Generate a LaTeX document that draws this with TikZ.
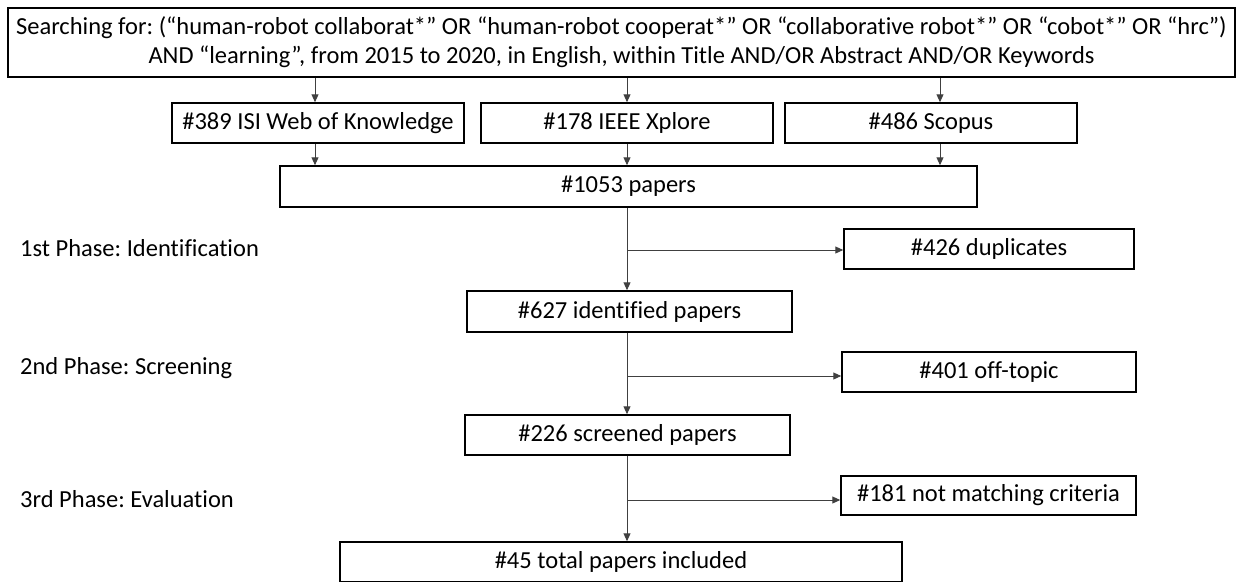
\documentclass[tikz,border=0pt]{standalone}
\usepackage{fontspec}
\setmainfont{Carlito}[Ligatures={NoCommon}]
\frenchspacing
\usetikzlibrary{arrows.meta}
\tikzset{
    box/.style={draw=black,line width=1.5pt,fill=white,inner sep=0pt,minimum height=40pt,font=\fontsize{24.5}{29}\selectfont},
    arr/.style={draw=black!75,line width=1pt,-{Triangle[length=8pt,width=7pt]}},
    phase/.style={anchor=west,inner sep=0pt,font=\fontsize{24.5}{29}\selectfont}
}
\begin{document}
\begin{tikzpicture}[x=1pt,y=-1pt]
\useasboundingbox (0,0) rectangle (1236,581);
\coordinate (c1) at (315,0);
\coordinate (c2) at (627,0);
\coordinate (c3) at (940,0);

\node[box,minimum width=1227pt,minimum height=69pt,align=center] (query) at (621.5,42.5) {Searching for: (“human-robot collaborat*” OR “human-robot cooperat*” OR “collaborative robot*” OR “cobot*” OR “hrc”)\\AND “learning”, from 2015 to 2020, in English, within Title AND/OR Abstract AND/OR Keywords};

\node[box,minimum width=292pt] (isi) at (318,123) {\#389 ISI Web of Knowledge};
\node[box,minimum width=292pt] (ieee) at (627,123) {\#178 IEEE Xplore};
\node[box,minimum width=292pt] (scopus) at (931,123) {\#486 Scopus};

\node[box,minimum width=697pt,minimum height=41pt] (total) at (628.5,186.5) {\#1053 papers};
\node[box,minimum width=290pt] (dup) at (989,249) {\#426 duplicates};
\node[box,minimum width=325pt,minimum height=41pt] (ident) at (629.5,311.5) {\#627 identified papers};
\node[box,minimum width=294pt] (off) at (989,372) {\#401 off-topic};
\node[box,minimum width=325pt] (screen) at (627.5,435) {\#226 screened papers};
\node[box,minimum width=295pt,minimum height=39pt] (nomatch) at (988.5,495.5) {\#181 not matching criteria};
\node[box,minimum width=562pt] (incl) at (621,562) {\#45 total papers included};

\node[phase] (ph1) at (20,248) {1st Phase: Identification};
\node[phase] (ph2) at (20,368) {2nd Phase: Screening};
\node[phase] (ph3) at (20,499) {3rd Phase: Evaluation};

\foreach \src/\c in {isi/c1,ieee/c2,scopus/c3}{
    \draw[arr] (query.south -| \c) -- (\src.north -| \c);
    \draw[arr] (\src.south -| \c) -- (total.north -| \c);
}

\draw[arr] (total.south -| c2) -- (ident.north -| c2);
\draw[arr] (ident.south -| c2) -- (screen.north -| c2);
\draw[arr] (screen.south -| c2) -- (incl.north -| c2);

\draw[arr] (c2 |- 0,250) -- (dup.west |- 0,250);
\draw[arr] (c2 |- 0,376) -- (off.west |- 0,376);
\draw[arr] (c2 |- 0,500) -- (nomatch.west |- 0,500);
\end{tikzpicture}
\end{document}
